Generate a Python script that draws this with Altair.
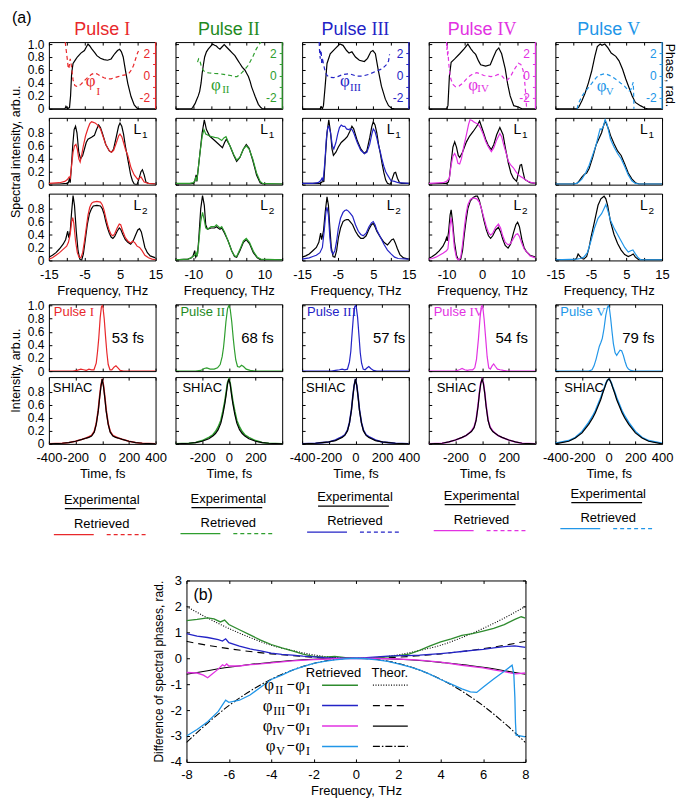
import altair as alt
import pandas as pd

# ------------------------------------------------------------------ data
PULSES = ["I", "II", "III", "IV", "V"]
COLORS = ["#e8282b", "#2e9e2e", "#2323c6", "#e232e2", "#2196e8"]
TITLE_COLORS = ["#e8282b", "#1e8a1e", "#2323c6", "#e232e2", "#2196e8"]
DURATIONS = ["53 fs", "68 fs", "57 fs", "54 fs", "79 fs"]

# measured spectra (THz, arb.u.)
SPEC_I = [(-15,0),(-10.5,0),(-10.2,0.04),(-9.8,0.0),(-9.2,0.02),(-8.9,0.2),(-8.6,0.55),(-8.2,0.7),(-7.5,0.76),(-7,0.8),(-6,0.86),(-5,0.9),(-4.5,0.95),(-4,1.0),(-3.5,0.97),(-3,0.93),(-2,0.86),(-1.5,0.82),(-0.5,0.78),(0.5,0.76),(1.5,0.75),(2.5,0.77),(3.5,0.85),(4.3,0.9),(4.9,0.92),(5.4,0.88),(5.9,0.8),(6.6,0.57),(7.2,0.39),(8.1,0.19),(9,0.06),(9.8,0.01),(10.5,0),(15,0)]
SPEC_II = [(-15,0),(-10.5,0),(-10.2,0.02),(-9.5,0.08),(-9.2,0.12),(-8.6,0.2),(-8.2,0.27),(-7.8,0.4),(-7.5,0.55),(-7.1,0.7),(-6.8,0.8),(-6.3,0.88),(-5.8,0.92),(-5.2,0.96),(-4.6,1.0),(-4,0.98),(-3.5,0.97),(-3,0.94),(-2.5,0.92),(-2,0.95),(-1.3,0.99),(-0.6,0.95),(0.3,0.9),(1,0.86),(1.7,0.82),(2.4,0.76),(3.1,0.7),(3.8,0.64),(4.5,0.6),(5,0.55),(5.5,0.5),(6,0.42),(6.4,0.34),(7,0.25),(7.4,0.19),(8.3,0.07),(9,0.02),(9.5,0.0),(15,0)]
SPEC_III = [(-15,0),(-10,0),(-9.6,0.03),(-9.3,0.0),(-9.0,0.05),(-8.6,0.3),(-8,0.7),(-7.1,0.85),(-5.7,0.93),(-4.4,1.0),(-3.5,0.98),(-2.5,0.9),(-1.8,0.86),(-1,0.88),(0,0.8),(1.1,0.75),(2.5,0.73),(3.4,0.78),(4.3,0.88),(4.9,0.9),(5.6,0.85),(6.4,0.6),(7.3,0.35),(8.4,0.15),(9.3,0.05),(10.2,0.01),(11,0),(15,0)]
SPEC_IV = [(-15,0),(-10,0),(-9.6,0.05),(-9.2,0.5),(-8.7,0.72),(-7.7,0.77),(-6.3,0.85),(-5,0.93),(-4,1.0),(-3.2,0.93),(-2.5,0.88),(-1.8,0.84),(-1,0.74),(-0.4,0.68),(1,0.66),(2.3,0.68),(3.2,0.8),(4,0.9),(4.7,0.94),(5.5,0.85),(6.5,0.62),(7.2,0.38),(7.9,0.2),(8.9,0.05),(10.2,0.03),(11.2,0),(15,0)]
SPEC_V = [(-15,0),(-9,0),(-8.4,0.03),(-7.5,0.13),(-6.6,0.25),(-5.7,0.4),(-4.8,0.58),(-3.9,0.81),(-3.2,0.96),(-2.4,1.0),(-1.9,0.98),(-1.1,1.0),(-0.2,0.94),(0.7,0.86),(2,0.81),(2.9,0.74),(3.9,0.61),(4.8,0.46),(5.7,0.33),(6.6,0.2),(7.5,0.1),(8.9,0.05),(10.3,0.01),(11,0),(15,0)]

# retrieved spectral phases (THz, rad)
PH_I = [(-10.4,3.0),(-10.1,2.2),(-9.8,1.4),(-9.6,0.8),(-9.4,0.6),(-9.2,1.0),(-9.0,1.5),(-8.8,1.2),(-8.5,0.4),(-8.2,-0.4),(-7.7,-0.9),(-7,-1.0),(-6,-0.8),(-5,-0.45),(-4,-0.15),(-3,0.1),(-2.3,0.2),(-1.5,0.15),(-0.5,-0.05),(0.5,-0.2),(1.5,-0.3),(2.5,-0.3),(3.5,-0.2),(4.5,-0.1),(5.5,0.0),(6.5,0.05),(7.5,0.2),(8.2,0.5),(8.8,0.9),(9.4,1.5),(9.9,2.0),(10.2,2.2)]
PH_II = [(-8.8,1.2),(-8.5,1.5),(-8.2,1.4),(-7.8,0.9),(-7.2,0.45),(-6.5,0.3),(-5.5,0.22),(-4,0.18),(-2.5,0.15),(-1.5,0.1),(-0.5,0.05),(0.5,0.0),(1.5,-0.1),(2.3,-0.1),(3.0,0.05),(3.8,0.3),(4.5,0.55),(5.3,0.85),(6.1,1.3),(6.9,1.8),(7.6,2.3),(8.3,2.7),(9,3.0)]
PH_III = [(-10.2,3.0),(-10.1,2.2),(-9.9,1.5),(-9.8,2.3),(-9.6,2.0),(-9.5,1.0),(-9.3,1.6),(-9.1,1.2),(-8.7,0.6),(-8.2,0.1),(-7.5,-0.15),(-6.2,-0.2),(-5,-0.1),(-3.5,0.1),(-1.6,0.15),(0.2,-0.05),(2,-0.05),(3.8,0.1),(5.6,0.35),(7.5,0.6),(8.8,1.0),(9.3,1.3),(9.6,1.9)]
PH_IV = [(-10.0,3.0),(-9.9,2.3),(-9.8,2.8),(-9.7,1.8),(-9.6,2.2),(-9.4,1.2),(-9.2,0.5),(-8.8,-0.3),(-8.2,-0.8),(-7.5,-1.0),(-6.5,-0.95),(-5.5,-0.7),(-4.5,-0.35),(-3.5,-0.05),(-2.5,0.15),(-1.5,0.25),(-0.5,0.15),(0.5,0.0),(1.5,-0.05),(2.5,-0.1),(3.5,-0.05),(4.5,0.1),(5.5,0.0),(6.3,-0.3),(7.0,-0.45),(8.0,-0.1),(8.9,0.46),(10.2,1.1),(10.9,1.0),(11.5,0.5),(11.9,-0.3),(12.1,-1.0),(12.3,-1.8),(12.4,-2.4),(12.5,-2.8)]
PH_V = [(-8.9,-3.0),(-8.5,-2.5),(-7.5,-1.85),(-6.6,-1.45),(-5.7,-1.1),(-4.5,-0.6),(-3.4,-0.15),(-2.3,0.05),(-1.3,0.15),(-0.3,0.08),(0.7,-0.06),(1.6,-0.25),(2.5,-0.46),(3.4,-0.7),(4.3,-0.9),(5.0,-1.15),(5.7,-1.4),(6.2,-1.3),(6.6,-0.9),(6.9,-0.6),(7.0,-1.5),(7.1,-3.0)]

# filter L1: experimental (black) and retrieved (colour)
L1E_I = [(-15,0.01),(-12,0.01),(-10,0.02),(-9.5,0.03),(-9.2,0.1),(-9.0,0.03),(-8.7,0.25),(-8.3,0.6),(-7.9,0.85),(-7.5,0.9),(-7.1,0.8),(-6.6,0.5),(-6.1,0.4),(-5.5,0.45),(-5,0.55),(-4.5,0.65),(-4,0.7),(-3,0.73),(-2.2,0.76),(-1.6,0.85),(-1,0.92),(-0.5,0.88),(0,0.8),(1,0.62),(2,0.52),(2.6,0.5),(3.2,0.55),(4,0.75),(4.6,0.9),(5,0.95),(5.5,0.9),(6,0.78),(6.5,0.6),(7,0.45),(7.5,0.3),(8,0.15),(8.5,0.06),(9,0.01),(9.8,0.0),(10.4,0.1),(10.9,0.2),(11.3,0.23),(11.8,0.15),(12.3,0.04),(13,0.02),(15,0.01)]
L1R_I = [(-15,0.02),(-12,0.03),(-10.5,0.05),(-9.8,0.08),(-9.3,0.12),(-9,0.1),(-8.6,0.3),(-8.2,0.5),(-7.8,0.6),(-7.4,0.62),(-7,0.55),(-6.6,0.4),(-6.2,0.35),(-5.8,0.45),(-5.3,0.6),(-4.7,0.75),(-4,0.87),(-3.5,0.94),(-3,0.97),(-2.5,0.96),(-2,0.95),(-1.5,0.93),(-1,0.9),(-0.5,0.86),(0,0.78),(1,0.62),(2,0.52),(2.6,0.5),(3.2,0.53),(4,0.65),(4.6,0.75),(5,0.78),(5.5,0.74),(6,0.65),(6.5,0.55),(7.2,0.45),(8.1,0.26),(9,0.15),(10,0.08),(10.9,0.12),(11.8,0.04),(13,0.02),(15,0.01)]
L1E_II = [(-15,0.01),(-11,0.01),(-10,0.02),(-9.6,0.05),(-9.2,0.15),(-9.0,0.05),(-8.6,0.25),(-8.2,0.45),(-7.5,0.8),(-6.9,1.0),(-6.3,0.85),(-5.4,0.75),(-4,0.68),(-3,0.63),(-1.8,0.57),(-1.2,0.65),(-0.7,0.7),(0.3,0.6),(1.4,0.45),(2.2,0.36),(3.1,0.42),(4.1,0.55),(4.9,0.62),(5.7,0.56),(6.7,0.38),(7.8,0.15),(8.8,0.03),(9.5,0.01),(15,0.01)]
L1R_II = [(-15,0.02),(-11,0.02),(-10,0.03),(-9.5,0.06),(-9.3,0.12),(-9.0,0.06),(-8.6,0.25),(-8.2,0.45),(-7.5,0.75),(-7,0.85),(-6.5,0.78),(-5.4,0.75),(-4,0.73),(-3,0.72),(-2,0.68),(-1.4,0.72),(-0.8,0.74),(0.3,0.6),(1.4,0.46),(2.2,0.38),(3.1,0.42),(4.1,0.55),(4.9,0.6),(5.7,0.55),(6.7,0.4),(7.8,0.18),(8.8,0.05),(9.5,0.02),(15,0.01)]
L1E_III = [(-15,0.02),(-12,0.02),(-10,0.02),(-9.4,0.04),(-9.1,0.1),(-8.9,0.04),(-8.5,0.4),(-8,0.8),(-7.5,1.0),(-7,0.8),(-6.6,0.55),(-6.2,0.45),(-5.5,0.5),(-4.8,0.58),(-4,0.65),(-3,0.7),(-2.3,0.74),(-1.6,0.82),(-1,0.9),(-0.5,0.86),(0.5,0.68),(1.5,0.55),(2.5,0.48),(3.2,0.52),(4,0.72),(4.6,0.9),(5,0.97),(5.5,0.92),(6,0.8),(6.5,0.62),(7,0.48),(7.5,0.32),(8,0.18),(8.5,0.07),(9,0.02),(9.8,0.0),(10.4,0.1),(10.9,0.18),(11.3,0.19),(11.8,0.1),(12.4,0.03),(13,0.02),(15,0.02)]
L1R_III = [(-15,0.02),(-12,0.02),(-10.5,0.03),(-9.8,0.06),(-9.4,0.1),(-9.1,0.06),(-8.6,0.35),(-8.2,0.7),(-7.8,0.88),(-7.5,0.9),(-7,0.8),(-6.5,0.6),(-6.1,0.55),(-5.5,0.65),(-5,0.78),(-4.5,0.88),(-4,0.92),(-3.5,0.9),(-3,0.9),(-2.5,0.86),(-2,0.85),(-1.5,0.86),(-1,0.85),(-0.5,0.8),(0.5,0.65),(1.5,0.53),(2.5,0.48),(3.2,0.5),(4,0.62),(4.6,0.78),(5,0.86),(5.5,0.82),(6,0.72),(6.5,0.6),(7,0.5),(7.5,0.38),(8,0.28),(8.5,0.2),(9,0.15),(10,0.06),(11,0.05),(12,0.03),(15,0.02)]
L1E_IV = [(-15,0.01),(-11,0.02),(-10,0.02),(-9.5,0.04),(-9.2,0.1),(-8.7,0.35),(-8.2,0.58),(-7.7,0.66),(-7.2,0.58),(-6.7,0.45),(-6.3,0.42),(-5.5,0.5),(-4.4,0.66),(-3.5,0.75),(-2.5,0.82),(-1.5,0.9),(-0.7,0.98),(0.3,0.82),(1,0.7),(1.7,0.61),(2.6,0.54),(3.3,0.62),(4.1,0.77),(5,0.88),(5.9,0.77),(6.6,0.55),(7.4,0.33),(8.1,0.18),(8.8,0.1),(9.7,0.05),(10.3,0.2),(10.7,0.3),(11.1,0.31),(11.5,0.2),(12,0.08),(13.5,0.03),(15,0.02)]
L1R_IV = [(-15,0.02),(-11,0.03),(-10,0.05),(-9.2,0.1),(-8.7,0.3),(-8.2,0.44),(-7.7,0.48),(-7.2,0.42),(-6.8,0.33),(-6.3,0.32),(-5.8,0.4),(-5.1,0.6),(-4.4,0.77),(-3.8,0.93),(-3.4,1.0),(-2.8,0.99),(-2.4,0.97),(-1.8,0.95),(-1.2,0.94),(-0.5,0.88),(0.3,0.78),(1,0.67),(1.7,0.59),(2.6,0.51),(3.3,0.57),(4.1,0.69),(5,0.79),(5.5,0.74),(6.1,0.61),(6.8,0.48),(7.4,0.36),(8.1,0.3),(8.8,0.26),(9.5,0.2),(10.2,0.15),(11,0.12),(11.6,0.1),(12.3,0.07),(13,0.05),(14,0.03),(15,0.02)]
L1E_V = [(-15,0.01),(-10,0.01),(-9,0.02),(-8.4,0.05),(-7.5,0.12),(-6.8,0.16),(-6.2,0.18),(-5.5,0.25),(-4.5,0.42),(-3.5,0.62),(-2.5,0.74),(-2,0.8),(-1.5,0.9),(-1,0.98),(-0.5,0.92),(0,0.85),(0.5,0.76),(1.5,0.63),(2.5,0.52),(3.5,0.45),(4.5,0.32),(5.5,0.18),(6.5,0.09),(7.5,0.03),(8.5,0.01),(15,0.01)]
L1R_V = [(-15,0.01),(-10,0.01),(-9,0.02),(-8.4,0.04),(-7.5,0.09),(-6.5,0.18),(-5.5,0.3),(-4.5,0.46),(-3.5,0.62),(-2.8,0.78),(-2.4,0.86),(-2,0.85),(-1.5,0.9),(-1,1.0),(-0.5,0.94),(0,0.82),(0.5,0.7),(1.5,0.58),(2.5,0.48),(3.5,0.4),(4.5,0.28),(5.5,0.15),(6.5,0.06),(7.5,0.02),(8.5,0.01),(15,0.01)]

# filter L2: experimental (black) and retrieved (colour)
L2E_I = [(-15,0.05),(-14,0.08),(-13,0.12),(-12,0.18),(-11,0.25),(-10.3,0.32),(-9.7,0.45),(-9.4,0.35),(-9,0.45),(-8.6,0.75),(-8.2,1.0),(-7.8,0.85),(-7.3,0.45),(-6.8,0.15),(-6.3,0.02),(-5.8,0.0),(-5.3,0.1),(-4.8,0.3),(-4.2,0.55),(-3.6,0.72),(-3,0.8),(-2.5,0.84),(-1.5,0.85),(-0.5,0.84),(0,0.8),(0.5,0.72),(1,0.6),(1.5,0.5),(2,0.42),(2.5,0.36),(3,0.34),(3.5,0.37),(4.2,0.45),(4.8,0.5),(5.2,0.48),(5.8,0.4),(6.5,0.32),(7.2,0.28),(8,0.25),(8.7,0.3),(9.3,0.38),(10,0.47),(10.5,0.49),(11,0.44),(11.5,0.32),(12,0.2),(12.7,0.12),(13.5,0.07),(15,0.04)]
L2R_I = [(-15,0.02),(-14,0.04),(-13,0.08),(-12,0.12),(-11,0.17),(-10,0.22),(-9.5,0.28),(-9,0.4),(-8.6,0.6),(-8.3,0.66),(-8,0.58),(-7.5,0.3),(-7,0.12),(-6.5,0.05),(-6,0.04),(-5.5,0.12),(-5,0.3),(-4.5,0.5),(-4,0.7),(-3.5,0.82),(-3,0.88),(-2.5,0.9),(-1.5,0.91),(-0.5,0.9),(0,0.86),(0.5,0.78),(1,0.66),(1.5,0.55),(2,0.46),(2.5,0.4),(3,0.38),(3.5,0.41),(4.2,0.5),(4.8,0.56),(5.2,0.55),(5.8,0.45),(6.5,0.35),(7.2,0.3),(8,0.27),(8.6,0.3),(9.2,0.27),(9.8,0.22),(10.5,0.2),(11.2,0.15),(12,0.08),(13,0.04),(14,0.02),(15,0.01)]
L2E_II = [(-15,0.01),(-11.5,0.02),(-10.5,0.04),(-10,0.08),(-9.6,0.15),(-9.3,0.05),(-8.8,0.1),(-8.5,0.3),(-7.9,0.8),(-7.4,1.0),(-6.9,0.85),(-6.5,0.55),(-6,0.48),(-5,0.5),(-4,0.5),(-3.5,0.52),(-2.5,0.48),(-2,0.5),(-1.2,0.42),(-0.2,0.3),(0.8,0.15),(1.6,0.06),(2.2,0.05),(3.1,0.15),(4.1,0.28),(4.9,0.32),(5.8,0.26),(6.9,0.12),(8,0.04),(9,0.01),(15,0.01)]
L2R_II = [(-15,0.01),(-11.5,0.02),(-10.6,0.04),(-9.6,0.08),(-9.2,0.12),(-8.9,0.06),(-8.5,0.25),(-7.9,0.6),(-7.4,0.74),(-6.9,0.62),(-6.5,0.5),(-6,0.48),(-5,0.52),(-4,0.52),(-3.5,0.55),(-2.5,0.5),(-2,0.52),(-1.2,0.44),(-0.2,0.3),(0.8,0.15),(1.6,0.07),(2.2,0.06),(3.1,0.17),(4.1,0.3),(4.9,0.34),(5.8,0.28),(6.9,0.14),(8,0.05),(9,0.02),(15,0.01)]
L2E_III = [(-15,0.05),(-14,0.07),(-13,0.1),(-12,0.15),(-11,0.2),(-10.3,0.28),(-9.8,0.42),(-9.5,0.32),(-9,0.45),(-8.5,0.75),(-8,0.98),(-7.6,0.85),(-7.2,0.5),(-6.8,0.2),(-6.3,0.06),(-5.8,0.05),(-5.3,0.15),(-4.8,0.35),(-4.2,0.5),(-3.5,0.6),(-3,0.62),(-2.5,0.63),(-2,0.63),(-1.5,0.6),(-0.8,0.55),(0,0.45),(0.8,0.38),(1.5,0.34),(2.2,0.34),(3,0.38),(3.8,0.48),(4.5,0.55),(5,0.57),(5.5,0.52),(6,0.45),(7,0.36),(8,0.28),(9,0.24),(9.6,0.28),(10.2,0.32),(10.7,0.33),(11.2,0.27),(11.8,0.18),(12.5,0.09),(13.5,0.04),(15,0.02)]
L2R_III = [(-15,0.02),(-13,0.04),(-12,0.06),(-11,0.08),(-10,0.12),(-9.3,0.2),(-8.8,0.45),(-8.3,0.75),(-8,0.82),(-7.6,0.7),(-7.2,0.35),(-6.8,0.15),(-6.3,0.1),(-5.8,0.15),(-5.3,0.3),(-4.8,0.5),(-4.2,0.65),(-3.5,0.74),(-3,0.77),(-2.5,0.78),(-2,0.76),(-1.5,0.73),(-0.8,0.68),(0,0.55),(0.8,0.45),(1.5,0.4),(2.2,0.38),(3,0.42),(3.8,0.52),(4.5,0.58),(5,0.6),(5.5,0.55),(6,0.47),(7,0.36),(8,0.25),(9,0.16),(10,0.1),(11,0.05),(12,0.03),(15,0.02)]
L2E_IV = [(-15,0.03),(-14,0.06),(-13,0.1),(-12,0.15),(-11,0.22),(-10.3,0.3),(-10,0.35),(-9.8,0.3),(-9.4,0.45),(-9.0,0.7),(-8.7,0.78),(-8.3,0.6),(-7.8,0.3),(-7.2,0.08),(-6.6,0.0),(-6,0.02),(-5.5,0.15),(-5,0.4),(-4.5,0.62),(-4,0.8),(-3.3,0.92),(-2.5,0.97),(-1.8,0.99),(-1.3,0.99),(-0.8,0.93),(-0.2,0.8),(0.5,0.62),(1.2,0.47),(1.8,0.38),(2.4,0.34),(3,0.38),(3.8,0.47),(4.6,0.51),(5.2,0.44),(5.8,0.33),(6.5,0.23),(7.3,0.19),(8,0.25),(8.8,0.42),(9.5,0.55),(10,0.59),(10.5,0.52),(11.2,0.32),(11.8,0.2),(12.4,0.14),(13.5,0.08),(15,0.05)]
L2R_IV = [(-15,0.02),(-14,0.03),(-13,0.05),(-12,0.08),(-11,0.11),(-10,0.15),(-9.6,0.18),(-9.3,0.35),(-9,0.55),(-8.7,0.66),(-8.3,0.5),(-7.8,0.2),(-7.2,0.04),(-6.6,0.0),(-6,0.05),(-5.5,0.25),(-5,0.5),(-4.5,0.72),(-4,0.86),(-3.3,0.94),(-2.7,0.96),(-2.2,0.96),(-1.5,0.95),(-0.8,0.9),(-0.2,0.8),(0.5,0.66),(1.2,0.52),(1.8,0.43),(2.4,0.39),(3,0.42),(3.8,0.51),(4.6,0.56),(5.2,0.5),(5.8,0.38),(6.5,0.28),(7.3,0.24),(8,0.26),(8.8,0.34),(9.5,0.4),(10,0.41),(10.5,0.37),(11.2,0.26),(11.8,0.18),(12.4,0.14),(13.5,0.07),(15,0.04)]
L2E_V = [(-15,0.01),(-9.5,0.01),(-9,0.04),(-8.6,0.1),(-8.2,0.07),(-7.5,0.03),(-7,0.02),(-6.2,0.06),(-5.5,0.2),(-5,0.35),(-4,0.6),(-3,0.85),(-2.2,0.95),(-1.3,0.99),(-0.8,0.95),(-0.3,0.85),(0.5,0.6),(1.5,0.4),(2.5,0.26),(3.5,0.16),(4.5,0.09),(5.5,0.06),(6.3,0.08),(6.9,0.1),(7.5,0.05),(8.5,0.01),(15,0.01)]
L2R_V = [(-15,0.01),(-9,0.02),(-8,0.03),(-7,0.05),(-6,0.12),(-5,0.3),(-4,0.5),(-3,0.65),(-2,0.72),(-1.3,0.8),(-0.8,0.86),(-0.3,0.78),(0.5,0.62),(1.5,0.5),(2.5,0.4),(3.5,0.3),(4.5,0.2),(5.5,0.13),(6.2,0.15),(6.8,0.16),(7.5,0.1),(8.3,0.04),(9,0.01),(15,0.01)]

# retrieved temporal intensities (fs, arb.u.)
INT_I = [(-400,0),(-220,0),(-190,0.01),(-160,0.03),(-140,0.02),(-120,0.01),(-100,0.03),(-80,0.02),(-62,0.02),(-45,0.12),(-35,0.3),(-26,0.5),(-15,0.82),(-6,0.98),(0,1.0),(6,0.97),(15,0.8),(26,0.5),(35,0.28),(45,0.1),(58,0.02),(72,0.02),(88,0.06),(103,0.08),(118,0.05),(135,0.01),(160,0),(400,0)]
INT_II = [(-400,0),(-250,0),(-210,0.01),(-185,0.04),(-165,0.05),(-140,0.03),(-110,0.03),(-85,0.05),(-65,0.1),(-50,0.22),(-40,0.36),(-33,0.5),(-22,0.75),(-10,0.95),(0,1.0),(10,0.95),(22,0.75),(33,0.5),(42,0.33),(52,0.17),(65,0.07),(80,0.06),(95,0.09),(110,0.07),(130,0.03),(160,0.01),(200,0),(400,0)]
INT_III = [(-400,0),(-180,0),(-150,0.01),(-120,0.02),(-100,0.03),(-80,0.02),(-60,0.03),(-45,0.14),(-35,0.3),(-28,0.5),(-16,0.82),(-6,0.98),(0,1.0),(6,0.98),(16,0.82),(28,0.5),(36,0.28),(46,0.12),(58,0.03),(72,0.02),(88,0.05),(100,0.07),(115,0.04),(135,0.01),(160,0),(400,0)]
INT_IV = [(-400,0),(-200,0),(-170,0.02),(-150,0.04),(-130,0.02),(-110,0.01),(-90,0.02),(-70,0.02),(-55,0.05),(-42,0.18),(-27,0.5),(-15,0.82),(-6,0.98),(0,1.0),(6,0.97),(15,0.8),(27,0.5),(38,0.22),(50,0.05),(62,0.03),(75,0.08),(87,0.11),(100,0.07),(115,0.03),(135,0.02),(160,0.01),(190,0),(400,0)]
INT_V = [(-400,0),(-150,0),(-125,0.02),(-110,0.08),(-95,0.18),(-80,0.3),(-70,0.38),(-58,0.44),(-48,0.5),(-35,0.65),(-22,0.85),(-10,0.97),(-3,1.0),(5,0.96),(15,0.8),(25,0.6),(35,0.42),(48,0.28),(60,0.24),(72,0.28),(85,0.32),(97,0.31),(110,0.24),(122,0.15),(135,0.07),(148,0.03),(165,0.01),(190,0),(400,0)]

# SHIAC traces: delay grid (fs), experimental and retrieved
SH_T = [-400,-300,-250,-200,-150,-120,-100,-80,-60,-45,-30,-20,-10,0,10,20,30,45,60,80,100,120,150,200,250,300,400]
SHE_I = [0,0.01,0.02,0.04,0.07,0.09,0.1,0.12,0.18,0.3,0.5,0.7,0.88,1.0,0.88,0.7,0.5,0.3,0.18,0.12,0.1,0.09,0.07,0.04,0.02,0.01,0]
SHR_I = [0,0.01,0.02,0.04,0.07,0.09,0.11,0.13,0.19,0.31,0.52,0.72,0.9,1.0,0.9,0.72,0.52,0.31,0.19,0.13,0.11,0.09,0.07,0.04,0.02,0.01,0]
SHE_II = [0,0.01,0.02,0.04,0.08,0.12,0.16,0.22,0.32,0.45,0.62,0.76,0.92,1.0,0.92,0.76,0.62,0.45,0.32,0.22,0.16,0.12,0.08,0.04,0.02,0.01,0]
SHR_II = [0,0.01,0.02,0.05,0.1,0.14,0.19,0.26,0.36,0.5,0.66,0.8,0.94,1.0,0.94,0.8,0.66,0.5,0.36,0.26,0.19,0.14,0.1,0.05,0.02,0.01,0]
SHE_III = [0,0.01,0.02,0.03,0.05,0.08,0.1,0.13,0.2,0.32,0.52,0.72,0.9,1.0,0.9,0.72,0.52,0.32,0.2,0.13,0.1,0.08,0.05,0.03,0.02,0.01,0]
SHR_III = [0,0.01,0.02,0.03,0.06,0.09,0.11,0.14,0.21,0.33,0.53,0.73,0.9,1.0,0.9,0.73,0.53,0.33,0.21,0.14,0.11,0.09,0.06,0.03,0.02,0.01,0]
SHE_IV = [0,0.01,0.03,0.06,0.1,0.13,0.16,0.19,0.25,0.36,0.58,0.78,0.93,1.0,0.93,0.78,0.58,0.36,0.25,0.19,0.16,0.13,0.1,0.06,0.03,0.01,0]
SHR_IV = [0,0.01,0.03,0.06,0.1,0.13,0.16,0.2,0.26,0.37,0.6,0.79,0.94,1.0,0.94,0.79,0.6,0.37,0.26,0.2,0.16,0.13,0.1,0.06,0.03,0.01,0]
SHE_V = [0,0.04,0.09,0.17,0.3,0.4,0.48,0.58,0.68,0.78,0.87,0.93,0.98,1.0,0.98,0.93,0.87,0.78,0.68,0.58,0.48,0.4,0.3,0.17,0.09,0.04,0]
SHR_V = [0.01,0.05,0.1,0.19,0.33,0.43,0.51,0.61,0.71,0.8,0.88,0.94,0.98,1.0,0.98,0.94,0.88,0.8,0.71,0.61,0.51,0.43,0.33,0.19,0.1,0.05,0.01]

# panel (b): differences of spectral phases
DIFF_II = [(-8,1.45),(-7.5,1.5),(-7,1.56),(-6.7,1.52),(-6.4,1.4),(-6.2,1.47),(-6.0,1.3),(-5.5,1.1),(-5,0.9),(-4.5,0.7),(-4,0.53),(-3.5,0.4),(-3,0.28),(-2.5,0.16),(-2,0.07),(-1.5,0.04),(-1,0.07),(-0.5,0.02),(0,0.0),(0.5,-0.01),(1,0.02),(1.5,0.05),(2,0.1),(2.5,0.16),(3,0.3),(3.5,0.48),(4,0.63),(4.5,0.75),(5,0.88),(5.5,0.95),(6,1.05),(6.5,1.15),(7,1.3),(7.5,1.5),(7.8,1.6),(8,1.55)]
DIFF_III = [(-8,0.95),(-7.5,0.85),(-7,0.8),(-6.5,0.72),(-6.3,0.66),(-6.15,0.75),(-6,0.6),(-5.5,0.47),(-5,0.36),(-4.5,0.28),(-4,0.2),(-3.5,0.15),(-3,0.12),(-2.5,0.08),(-2,0.05),(-1.5,0.02),(-1,0.0),(-0.5,0.0),(0,0.0),(0.5,0.02),(1,0.05),(1.5,0.08),(2,0.1),(2.5,0.1),(3,0.12),(3.5,0.15),(4,0.18),(4.5,0.22),(5,0.26),(5.5,0.3),(6,0.34),(6.5,0.4),(7,0.45),(7.5,0.48),(8,0.42)]
DIFF_IV = [(-8,-0.55),(-7.5,-0.57),(-7.2,-0.65),(-7,-0.75),(-6.8,-0.62),(-6.5,-0.42),(-6.3,-0.25),(-6.2,-0.3),(-6.1,-0.22),(-6,-0.3),(-5.5,-0.3),(-5,-0.25),(-4.5,-0.22),(-4,-0.18),(-3,-0.1),(-2,-0.05),(-1,-0.02),(0,0.0),(1,-0.01),(2,-0.03),(3,-0.07),(4,-0.15),(5,-0.27),(6,-0.37),(6.5,-0.45),(7,-0.52),(7.5,-0.6),(8,-0.57)]
DIFF_V = [(-8,-3.0),(-7.5,-2.75),(-7,-2.45),(-6.5,-2.05),(-6.3,-1.8),(-6.15,-1.62),(-6.0,-1.7),(-5.5,-1.62),(-5,-1.42),(-4.5,-1.12),(-4,-0.82),(-3.5,-0.65),(-3,-0.46),(-2.5,-0.32),(-2,-0.2),(-1.5,-0.12),(-1,-0.06),(-0.5,-0.02),(0,0.0),(0.5,-0.02),(1,-0.06),(1.5,-0.12),(2,-0.22),(2.5,-0.32),(3,-0.45),(3.5,-0.62),(4,-0.82),(4.5,-1.0),(5,-1.18),(5.4,-1.3),(5.7,-1.32),(6,-1.12),(6.5,-0.8),(7,-0.5),(7.37,-0.27),(7.45,-0.6),(7.5,-1.5),(7.53,-2.5),(7.56,-2.97),(8,-3.03)]
THEO_X = [-8,-7,-6,-5,-4,-3,-2,-1,0,1,2,3,4,5,6,7,8]
THEO_II = [2.0,1.55,1.15,0.8,0.5,0.3,0.13,0.03,0,0.03,0.13,0.3,0.5,0.8,1.15,1.55,2.0]
THEO_III = [0.65,0.5,0.37,0.26,0.17,0.1,0.04,0.01,0,0.01,0.04,0.1,0.17,0.26,0.37,0.5,0.65]
THEO_IV = [-0.62,-0.48,-0.35,-0.24,-0.16,-0.09,-0.04,-0.01,0,-0.01,-0.04,-0.09,-0.16,-0.24,-0.35,-0.48,-0.62]
THEO_V = [-3.25,-2.5,-1.83,-1.27,-0.81,-0.46,-0.2,-0.05,0,-0.05,-0.2,-0.46,-0.81,-1.27,-1.83,-2.5,-3.25]

SPECS = [SPEC_I, SPEC_II, SPEC_III, SPEC_IV, SPEC_V]
PHASES = [PH_I, PH_II, PH_III, PH_IV, PH_V]
L1E = [L1E_I, L1E_II, L1E_III, L1E_IV, L1E_V]
L1R = [L1R_I, L1R_II, L1R_III, L1R_IV, L1R_V]
L2E = [L2E_I, L2E_II, L2E_III, L2E_IV, L2E_V]
L2R = [L2R_I, L2R_II, L2R_III, L2R_IV, L2R_V]
INTS = [INT_I, INT_II, INT_III, INT_IV, INT_V]
SHE = [SHE_I, SHE_II, SHE_III, SHE_IV, SHE_V]
SHR = [SHR_I, SHR_II, SHR_III, SHR_IV, SHR_V]
DIFFS = [DIFF_II, DIFF_III, DIFF_IV, DIFF_V]
THEOS = [THEO_II, THEO_III, THEO_IV, THEO_V]
DIFF_NUMS = ["II", "III", "IV", "V"]
DIFF_COLORS = ["#2e8b2e", "#2323c6", "#e232e2", "#2196e8"]

# ------------------------------------------------------------------ layout / style
SANS = "Liberation Sans"
SERIF = "Liberation Serif"
W, H = 107, 67
COL_GAP = 20
PERIOD = W + COL_GAP
ONE = pd.DataFrame({"k": [0]})
NUM_W18 = {"I": 6, "II": 12, "III": 18, "IV": 19, "V": 13}
PHI_POS = [(42, 39.5, 49.5, 50.5), (40.5, 43, 50.5, 48), (43, 39, 53.5, 46), (44.5, 43, 54.5, 47.5), (46.5, 44, 54.5, 50.5)]
DUR_X = [63, 66, 71, 67, 67]
SHIAC_X = [4, 7, 4, 8, 9]
TICK_IN = -3   # axes drawn 3 px inside the frame so that ticks point inward
YLAB = 12
FDOM = [-15, 15]
TDOM = [-400, 400]


def xy(pairs):
    return pd.DataFrame(pairs, columns=["x", "y"])


def txt(s, x, y, size=13, font=SANS, color="black", align="left", baseline="middle", angle=None):
    kw = dict(text=s, font=font, fontSize=size, color=color, align=align, baseline=baseline)
    if angle is not None:
        kw["angle"] = angle
    return alt.Chart(ONE).mark_text(**kw).encode(x=alt.value(x), y=alt.value(y))


def hrule(x1, x2, y, color, dash=None, width=1.3):
    kw = dict(color=color, strokeWidth=width)
    if dash:
        kw["strokeDash"] = dash
    return alt.Chart(ONE).mark_rule(**kw).encode(x=alt.value(x1), x2=alt.value(x2), y=alt.value(y))


def vrule(x, y1, y2, color, width=1.0):
    return alt.Chart(ONE).mark_rule(color=color, strokeWidth=width).encode(
        x=alt.value(x), y=alt.value(y1), y2=alt.value(y2))


def line(pairs, xenc, yenc, color, dash=None, width=1.2, interp=None, opacity=None):
    kw = dict(color=color, strokeWidth=width, clip=True)
    if dash:
        kw["strokeDash"] = dash
    if interp:
        kw["interpolate"] = interp
    if opacity is not None:
        kw["strokeOpacity"] = opacity
    return alt.Chart(xy(pairs)).mark_line(**kw).encode(x=xenc, y=yenc)


def qx(dom, axis):
    return alt.X("x:Q", scale=alt.Scale(domain=dom, nice=False), axis=axis)


def qy(dom, axis):
    return alt.Y("y:Q", scale=alt.Scale(domain=dom, nice=False), axis=axis)


def int_labels(shown):
    arr = ",".join(str(v) for v in shown)
    return ("indexof([" + arr + "], datum.value) >= 0 ? (datum.value < 0 ? '-' : '') + "
            "format(abs(datum.value), 'd') : ''")


ASCII_INT = "(datum.value < 0 ? '-' : '') + format(abs(datum.value), 'd')"
Y01 = "datum.value == 0 ? '0' : format(datum.value, '.1f')"
FT = [-15, -10, -5, 0, 5, 10, 15]
TT = [-400, -200, 0, 200, 400]


def top_ticks(values):
    return alt.Axis(orient="top", values=values, labels=False, title=None)


def freq_x(c, r):
    if r < 2:
        ax = alt.Axis(values=FT, labels=False, title=None)
    else:
        shown = [-15, -5, 5, 15] if c in (0, 2, 4) else [-10, 0, 10]
        ax = alt.Axis(values=FT, labelExpr=int_labels(shown), title="Frequency, THz", titlePadding=3)
    return qx(FDOM, ax)


def left_axis(vals, c, title=None, **kw):
    if c == 0:
        if title:
            return alt.Axis(values=vals, labelExpr=Y01, labelFontSize=YLAB, title=title,
                            titlePadding=5, titleFontSize=12.5, **kw)
        return alt.Axis(values=vals, labelExpr=Y01, labelFontSize=YLAB, title=None)
    return alt.Axis(values=vals, labels=False, title=None)


def spec_y(c, r):
    vals = [0, 0.2, 0.4, 0.6, 0.8, 1.0] if r == 0 else [0, 0.2, 0.4, 0.6, 0.8]
    ttl = "Spectral intensity, arb.u." if r == 1 else None
    return qy([0, 1.03], left_axis(vals, c, ttl))


def panel_a(c):
    col = COLORS[c]
    spec = line(SPECS[c], freq_x(c, 0), spec_y(c, 0), "black")
    ph_ax = alt.Axis(orient="right", values=[-2, -1, 0, 1, 2], labelExpr="abs(datum.value) == 1 ? '' : " + ASCII_INT,
                     tickColor=col, labelPadding=-6, labelAlign="right", labelColor=col,
                     labelFontSize=YLAB, title=None)
    phase = line(PHASES[c], qx(FDOM, None), qy([-3, 3], ph_ax), col, dash=[4, 3])
    ghost = line(SPECS[c], qx(FDOM, top_ticks(FT)), qy([0, 1.03], None), "black", opacity=0)
    num = PULSES[c]
    start = W / 2 - (50 + NUM_W18[num]) / 2
    layers = [spec, phase, ghost, vrule(W, 0, H, col, 1.2),
              txt("Pulse", start + 45, -7, size=18, color=TITLE_COLORS[c], align="right", baseline="alphabetic"),
              txt(num, start + 50, -7, size=18, font=SERIF, color=TITLE_COLORS[c], baseline="alphabetic")]
    px, py, sx, sy = PHI_POS[c]
    layers += [txt("φ", px, py, size=17, font=SERIF, color=col, align="center"),
               txt(num, sx, sy, size=11, font=SERIF, color=col, align="center")]
    if c == 0:
        layers.append(txt("(a)", -37, -19, size=16, baseline="alphabetic"))
    if c == 4:
        layers.append(txt("Phase, rad.", W + 8, H / 2, size=12.5, align="center", angle=90))
    return alt.layer(*layers).resolve_scale(y="independent").resolve_axis(x="independent").properties(
        width=W, height=H)


def panel_bc(c, r):
    exp, ret = (L1E, L1R) if r == 1 else (L2E, L2R)
    ye = spec_y(c, r)
    layers = [line(exp[c], freq_x(c, r), ye, "black"),
              line(ret[c], qx(FDOM, None), ye, COLORS[c]),
              line(exp[c], qx(FDOM, top_ticks(FT)), ye, "black", opacity=0),
              txt("L", 85, 16, size=14, baseline="alphabetic"),
              txt("1" if r == 1 else "2", 93.5, 20, size=10, baseline="alphabetic")]
    return alt.layer(*layers).resolve_axis(x="independent").properties(width=W, height=H)


def time_x(c, r):
    if r == 3:
        ax = alt.Axis(values=TT, labels=False, title=None)
    else:
        shown = TT if c in (0, 2, 4) else [-200, 0, 200]
        ax = alt.Axis(values=TT, labelExpr=int_labels(shown), title="Time, fs", titlePadding=3)
    return qx(TDOM, ax)


def panel_d(c):
    vals = [0, 0.2, 0.4, 0.6, 0.8, 1.0]
    ax = left_axis(vals, c, "Intensity, arb.u.", titleY=66) if c == 0 else left_axis(vals, c)
    ye = qy([0, 1.02], ax)
    layers = [line(INTS[c], time_x(c, 3), ye, COLORS[c]),
              line(INTS[c], qx(TDOM, top_ticks(TT)), ye, "black", opacity=0)]
    layers += [txt("Pulse", 5, 8, size=13, color=TITLE_COLORS[c]),
               txt(PULSES[c], 41, 8, size=13, font=SERIF, color=TITLE_COLORS[c])]
    layers.append(txt(DURATIONS[c], DUR_X[c], 34, size=15))
    return alt.layer(*layers).resolve_axis(x="independent").properties(width=W, height=H)


def panel_e(c):
    vals = [0, 0.2, 0.4, 0.6, 0.8]
    ye = qy([0, 1.03], left_axis(vals, c))
    ret = list(zip(SH_T, SHR[c]))
    exp = list(zip(SH_T, SHE[c]))
    layers = [line(ret, time_x(c, 4), ye, COLORS[c], width=1.6),
              line(exp, qx(TDOM, None), ye, "black"),
              line(exp, qx(TDOM, top_ticks(TT)), ye, "black", opacity=0),
              txt("SHIAC", SHIAC_X[c], 11, size=13)]
    return alt.layer(*layers).resolve_axis(x="independent").properties(width=W, height=H)


# legend row (experimental / retrieved); x relative to the first panel's left edge
LEG_TOP = 480
LEG_DRIFT = [0, -1, -2.5, -4, -6]
leg = []
for c in range(5):
    x0 = PERIOD * c
    d = LEG_DRIFT[c] - LEG_TOP
    leg.append(txt("Experimental", x0 + 53, 498 + d, size=13, align="center"))
    leg.append(hrule(x0 + 16, x0 + 87, 507 + d, "black"))
    leg.append(txt("Retrieved", x0 + 53, 522 + d, size=13, align="center"))
    leg.append(hrule(x0 + 5, x0 + 45, 533 + d, COLORS[c]))
    leg.append(hrule(x0 + 58, x0 + 98, 533 + d, COLORS[c], dash=[4, 3]))
legend = alt.layer(*leg).properties(width=4 * PERIOD + 100, height=92,
                                    view=alt.ViewBackground(strokeOpacity=0))

# panel (b)
BW, BH = 340, 182
BXV = list(range(-8, 9, 2))
BYV = list(range(-4, 4))
bx = qx([-8, 8], alt.Axis(values=BXV, labelExpr=ASCII_INT, title="Frequency, THz", titlePadding=3, labelPadding=7))
by = qy([-4, 3], alt.Axis(values=BYV, labelExpr=ASCII_INT, title="Difference of spectral phases, rad.",
                          titlePadding=4, titleFontSize=12, labelPadding=5))
bx0 = qx([-8, 8], None)
by0 = qy([-4, 3], None)
THEO_DASH = [[1, 1.6], [7, 5], None, [7, 2, 1.5, 2]]
b_layers = [line(list(zip(THEO_X, THEOS[0])), bx, by, "black", dash=THEO_DASH[0], width=1.1, interp="monotone")]
for i in range(1, 4):
    b_layers.append(line(list(zip(THEO_X, THEOS[i])), bx0, by0, "black", dash=THEO_DASH[i], width=1.1, interp="monotone"))
for i in range(4):
    b_layers.append(line(DIFFS[i], bx0, by0, DIFF_COLORS[i], width=1.3))
b_layers.append(line(DIFFS[0], qx([-8, 8], top_ticks(BXV)),
                     qy([-4, 3], alt.Axis(orient="right", values=BYV, labels=False, title=None)),
                     "black", opacity=0))
b_layers.append(txt("(b)", 7, 15, size=16))
b_layers.append(txt("Retrieved", 147.5, 93, size=13, align="center"))
b_layers.append(txt("Theor.", 204, 93, size=13, align="center"))
ROW_Y = [105, 125.5, 146, 166.5]
PHI1_X = [83, 81.5, 81.5, 84.5]
SUB1_X = [89, 87, 86, 90]
for i in range(4):
    yy = ROW_Y[i]
    b_layers += [txt("φ", PHI1_X[i], yy, size=17, font=SERIF, align="center"),
                 txt(DIFF_NUMS[i], SUB1_X[i], yy + 5, size=12, font=SERIF),
                 txt("−", 104.5, yy, size=14, align="center"),
                 txt("φ", 114, yy, size=17, font=SERIF, align="center"),
                 txt("I", 120, yy + 5, size=12, font=SERIF),
                 hrule(136, 172, yy, DIFF_COLORS[i], width=1.5),
                 hrule(187, 222, yy, "black", dash=THEO_DASH[i], width=1.3)]
panel_b = alt.layer(*b_layers).resolve_axis(x="independent", y="independent").properties(width=BW, height=BH)
spacer = alt.Chart(ONE).mark_text(text=" ").encode(x=alt.value(0), y=alt.value(0)).properties(
    width=103, height=10, view=alt.ViewBackground(strokeOpacity=0))
bottom = alt.hconcat(spacer, panel_b, spacing=0)

block1 = alt.concat(*([panel_a(c) for c in range(5)] + [panel_bc(c, 1) for c in range(5)] +
                      [panel_bc(c, 2) for c in range(5)]),
                    columns=5, spacing={"row": 9, "column": COL_GAP}, bounds="flush")
block2 = alt.concat(*([panel_d(c) for c in range(5)] + [panel_e(c) for c in range(5)]),
                    columns=5, spacing={"row": 6, "column": COL_GAP}, bounds="flush")

chart = alt.vconcat(block1, block2, legend, bottom, spacing=0, padding=0, background="white").configure_view(
    stroke="black", strokeWidth=1
).configure_axis(
    offset=TICK_IN, domain=False, tickSize=3, tickColor="black", tickWidth=1,
    labelFont=SANS, labelFontSize=13, labelColor="black", labelPadding=5,
    labelOverlap=False, labelFlush=False, grid=False,
    titleFont=SANS, titleFontSize=13, titleFontWeight="normal", titleColor="black"
).configure_axisX(labelPadding=8)

chart.save("out.html", embed_options={"renderer": "svg", "actions": False})
